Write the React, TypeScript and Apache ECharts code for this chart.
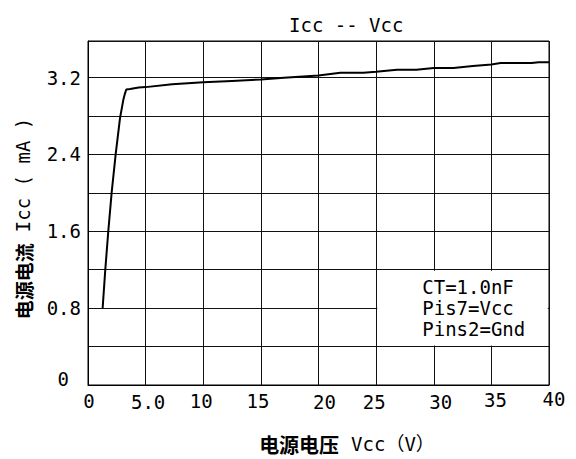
import React, { useEffect, useRef } from 'react';
import * as echarts from 'echarts';

// ---- data ----
const vcc = [1.27, 1.5, 1.76, 2.05, 2.4, 2.78, 3.07, 3.2, 3.32, 3.65, 4.4, 5.0, 7.3, 10, 12.5, 15, 17, 20, 21.9, 23.9, 25, 26.8, 28.5, 30, 31.7, 33.4, 35, 35.8, 38.5, 39.1, 40];
const icc = [0.8, 1.2, 1.6, 2.0, 2.4, 2.78, 2.97, 3.03, 3.075, 3.08, 3.096, 3.1, 3.13, 3.15, 3.165, 3.18, 3.197, 3.22, 3.25, 3.25, 3.26, 3.28, 3.28, 3.3, 3.3, 3.32, 3.335, 3.35, 3.35, 3.36, 3.36];

const xTicks = [0, 5, 10, 15, 20, 25, 30, 35, 40];
const xTickLabels = ['0', '5.0', '10', '15', '20', '25', '30', '35', '40'];
const yTicks = [0, 0.8, 1.6, 2.4, 3.2];
const yTickLabels = ['0', '0.8', '1.6', '2.4', '3.2'];
const notes = ['CT=1.0nF', 'Pis7=Vcc', 'Pins2=Gnd'];
const titleText = 'Icc -- Vcc';
const xNameCJK = '电源电压';
const xNameLatin = 'Vcc（V）';
const yNameCJK = '电源电流';
const yNameLatin = 'Icc ( mA )';

// ---- styles ----
const MONO = "'DejaVu Sans Mono', monospace";
const CJK = "'Noto Sans CJK SC', sans-serif";
// per-label nudges [dx, top padding]
const xNudge = [[1, 4], [2.5, 6], [-2, 4], [-3, 4], [6, 6], [-2, 6], [7, 6], [4, 1], [5, 0]];

const xRich: Record<string, any> = {};
xNudge.forEach(([dx, pt], i) => {
  xRich['x' + i] = {
    fontFamily: MONO,
    fontSize: 19,
    lineHeight: 20,
    color: '#000',
    padding: [pt, dx < 0 ? -2 * dx : 0, 0, dx > 0 ? 2 * dx : 0],
  };
});

export default function App() {
  const ref = useRef<HTMLDivElement>(null);
  useEffect(() => {
    const chart = echarts.init(ref.current!, null, { renderer: 'svg' });
    const option: any = {
      animation: false,
      backgroundColor: '#fff',
      title: {
        text: titleText,
        left: 289,
        top: 15,
        padding: 0,
        textStyle: { fontFamily: MONO, fontSize: 19, fontWeight: 'normal', color: '#000', lineHeight: 19 },
      },
      grid: {
        left: 88,
        right: 27,
        top: 41,
        bottom: 73,
        show: true,
        borderColor: '#000',
        borderWidth: 1,
        backgroundColor: 'transparent',
      },
      xAxis: {
        type: 'value',
        min: 0,
        max: 40,
        interval: 5,
        axisLine: { show: true, lineStyle: { color: '#000', width: 1 } },
        axisTick: { show: false },
        splitLine: { show: true, lineStyle: { color: '#111', width: 1 } },
        axisLabel: {
          margin: 4,
          verticalAlign: 'top',
          formatter: (v: number) => {
            const i = xTicks.findIndex((t) => Math.abs(t - v) < 1e-6);
            return i < 0 ? '' : `{x${i}|${xTickLabels[i]}}`;
          },
          rich: xRich,
        },
        name: `{b|${xNameCJK}}{s| }{n|${xNameLatin}}`,
        nameLocation: 'middle',
        nameGap: 49,
        nameTextStyle: {
          padding: [0, 0, 0, 57],
          rich: {
            b: { fontFamily: CJK, fontWeight: 'bold', fontSize: 20, color: '#000', lineHeight: 20 },
            s: { fontFamily: MONO, fontSize: 19, color: '#000', lineHeight: 20, width: 12 },
            n: { fontFamily: MONO + ", 'Noto Sans CJK SC'", fontSize: 19, color: '#000', lineHeight: 20 },
          },
        },
      },
      yAxis: {
        type: 'value',
        min: 0,
        max: 3.58,
        interval: 0.4,
        axisLine: { show: true, lineStyle: { color: '#000', width: 1 } },
        axisTick: { show: false },
        splitLine: { show: true, lineStyle: { color: '#111', width: 1 } },
        axisLabel: {
          margin: 7,
          formatter: (v: number) => {
            const i = yTicks.findIndex((t) => Math.abs(t - v) < 1e-6);
            if (i < 0) return '';
            return i === 0 ? `{z|${yTickLabels[i]}}` : `{d|${yTickLabels[i]}}`;
          },
          rich: {
            d: { fontFamily: MONO, fontSize: 19, color: '#000' },
            z: { fontFamily: MONO, fontSize: 19, color: '#000', padding: [0, 12, 12, 0] },
          },
        },
        name: `{b|${yNameCJK}}{s| }{n|${yNameLatin}}`,
        nameLocation: 'middle',
        nameGap: 55,
        nameTextStyle: {
          padding: [0, 11, 0, 0],
          rich: {
            b: { fontFamily: CJK, fontWeight: 'bold', fontSize: 19, color: '#000', lineHeight: 20 },
            s: { fontFamily: MONO, fontSize: 19, color: '#000', lineHeight: 20, width: 11 },
            n: { fontFamily: MONO, fontSize: 19, color: '#000', lineHeight: 20 },
          },
        },
      },
      series: [
        {
          type: 'line',
          data: vcc.map((v, i) => [v, icc[i]]),
          showSymbol: false,
          symbol: 'none',
          lineStyle: { color: '#000', width: 2 },
          z: 3,
          markArea: {
            silent: true,
            itemStyle: { color: '#fff', opacity: 1, borderWidth: 0 },
            label: {
              show: true,
              position: [45, 6],
              formatter: notes.join('\n'),
              fontFamily: MONO,
              fontSize: 19,
              lineHeight: 21,
              color: '#000',
              align: 'left',
              verticalAlign: 'top',
            },
            data: [[{ coord: [25.1, 1.19] }, { coord: [39.9, 0.41] }]],
          },
        },
      ],
    };
    chart.setOption(option);
    return () => chart.dispose();
  }, []);
  return (
    <div
      ref={ref}
      style={{ position: 'fixed', left: 0, top: 0, width: 576, height: 459, background: '#fff' }}
    />
  );
}
